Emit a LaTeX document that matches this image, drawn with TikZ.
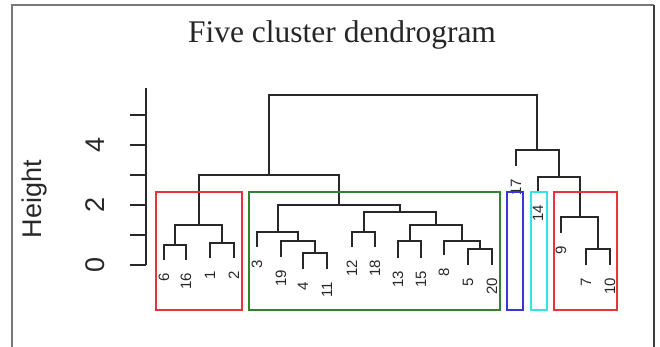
\documentclass[tikz,border=0pt]{standalone}
\usepackage{fontspec}
\setmainfont{Liberation Sans}
\newfontfamily\titlefont{Liberation Serif}
\usetikzlibrary{calc}

\definecolor{treeink}{RGB}{40,40,40}
\definecolor{frameleft}{RGB}{120,120,120}
\definecolor{frameright}{RGB}{60,60,60}
\definecolor{boxred}{RGB}{232,50,60}
\definecolor{boxgreen}{RGB}{50,130,50}
\definecolor{boxblue}{RGB}{55,55,215}
\definecolor{boxcyan}{RGB}{50,228,228}

\begin{document}
\begin{tikzpicture}[x=1pt,y=-1pt,
  tree/.style={draw=treeink,line width=2pt,line join=miter},
  clusterbox/.style={line width=2pt},
  axisline/.style={draw=treeink,line width=2pt},
  leaflab/.style={rotate=90,anchor=east,inner sep=0pt,text=treeink,
    font=\fontsize{15}{15}\selectfont},
  ticklab/.style={rotate=90,inner sep=0pt,text=treeink,
    font=\fontsize{27}{27}\selectfont},
  ]
\useasboundingbox (0,0) rectangle (660,347);
\fill[white] (0,0) rectangle (660,347);

% outer frame (open at the bottom)
\draw[frameleft,line width=1.5pt] (12,347) -- (12,5) -- (654,5);
\draw[frameright,line width=1.5pt] (654,5) -- (654,347);

% title
\node[anchor=base,inner sep=0pt,text=black!85,
  font=\titlefont\fontsize{31.5}{31.5}\selectfont] (title) at (342,43)
  {Five cluster dendrogram};

% y axis
\coordinate (ax0) at (146,265);
\coordinate (axtop) at (146,88);
\draw[axisline] (ax0) -- (axtop);
\foreach \h in {0,...,5}{
  \coordinate (tk\h) at (146,265-30*\h);
  \draw[axisline] (tk\h) -- ++(-16,0);
}
\node[ticklab] (lab0) at (95,265) {0};
\node[ticklab] (lab2) at (95,205) {2};
\node[ticklab] (lab4) at (95,145) {4};
\node[rotate=90,inner sep=0pt,text=treeink,
  font=\fontsize{27}{27}\selectfont] (ylab) at (35,199) {Height};

% leaves: x position and lower end of the hanging branch
\coordinate (l6)  at (164,260);
\coordinate (l16) at (186,260);
\coordinate (l1)  at (210,258);
\coordinate (l2)  at (234,258);
\coordinate (l3)  at (257,247);
\coordinate (l19) at (281,257);
\coordinate (l4)  at (303,269);
\coordinate (l11) at (327,269);
\coordinate (l12) at (352,247);
\coordinate (l18) at (375,247);
\coordinate (l13) at (398,258);
\coordinate (l15) at (421,258);
\coordinate (l8)  at (444,255);
\coordinate (l5)  at (468,265);
\coordinate (l20) at (492,265);
\coordinate (l17) at (516,166);
\coordinate (l14) at (538,192);
\coordinate (l9)  at (561,233);
\coordinate (l7)  at (586,265);
\coordinate (l10) at (610,265);

% merges
\coordinate (ma) at (175,245);
\coordinate (mb) at (222,243);
\coordinate (mc) at (198.5,225);
\coordinate (md) at (315,253);
\coordinate (me) at (298,241);
\coordinate (mf) at (277.5,232);
\coordinate (mg) at (363.5,232);
\coordinate (mh) at (409.5,241);
\coordinate (mi) at (480,249);
\coordinate (mj) at (462,241);
\coordinate (mk) at (435.75,225);
\coordinate (ml) at (399.6,212);
\coordinate (mm) at (338.6,205);
\coordinate (mn) at (268.5,175);
\coordinate (mo) at (598,249);
\coordinate (mp) at (579.5,217);
\coordinate (mq) at (558.75,177);
\coordinate (mr) at (537.4,150);
\coordinate (root) at (403,95);

% branches
\draw[tree] (l6) |- (ma) -| (l16);
\draw[tree] (l1) |- (mb) -| (l2);
\draw[tree] (ma) |- (mc) -| (mb);
\draw[tree] (l4) |- (md) -| (l11);
\draw[tree] (l19) |- (me) -| (md);
\draw[tree] (l3) |- (mf) -| (me);
\draw[tree] (l12) |- (mg) -| (l18);
\draw[tree] (l13) |- (mh) -| (l15);
\draw[tree] (l5) |- (mi) -| (l20);
\draw[tree] (l8) |- (mj) -| (mi);
\draw[tree] (mh) |- (mk) -| (mj);
\draw[tree] (mg) |- (ml) -| (mk);
\draw[tree] (mf) |- (mm) -| (ml);
\draw[tree] (mc) |- (mn) -| (mm);
\draw[tree] (l7) |- (mo) -| (l10);
\draw[tree] (l9) |- (mp) -| (mo);
\draw[tree] (l14) |- (mq) -| (mp);
\draw[tree] (l17) |- (mr) -| (mq);
\draw[tree] (mn) |- (root) -| (mr);

% leaf labels
\foreach \k in {6,16,1,2,3,19,4,11,12,18,13,15,8,5,20,17,14,9,7,10}{
  \node[leaflab] (t\k) at ($(l\k)+(0,13)$) {\k};
}

% cluster boxes
\draw[clusterbox,boxred]   (155.5,192) rectangle (242,310);
\draw[clusterbox,boxgreen] (249,192) rectangle (499.5,310);
\draw[clusterbox,boxblue]  (507,192) rectangle (523,310);
\draw[clusterbox,boxcyan]  (531,192) rectangle (547,310);
\draw[clusterbox,boxred]   (553.5,192) rectangle (617,310);
\end{tikzpicture}
\end{document}
